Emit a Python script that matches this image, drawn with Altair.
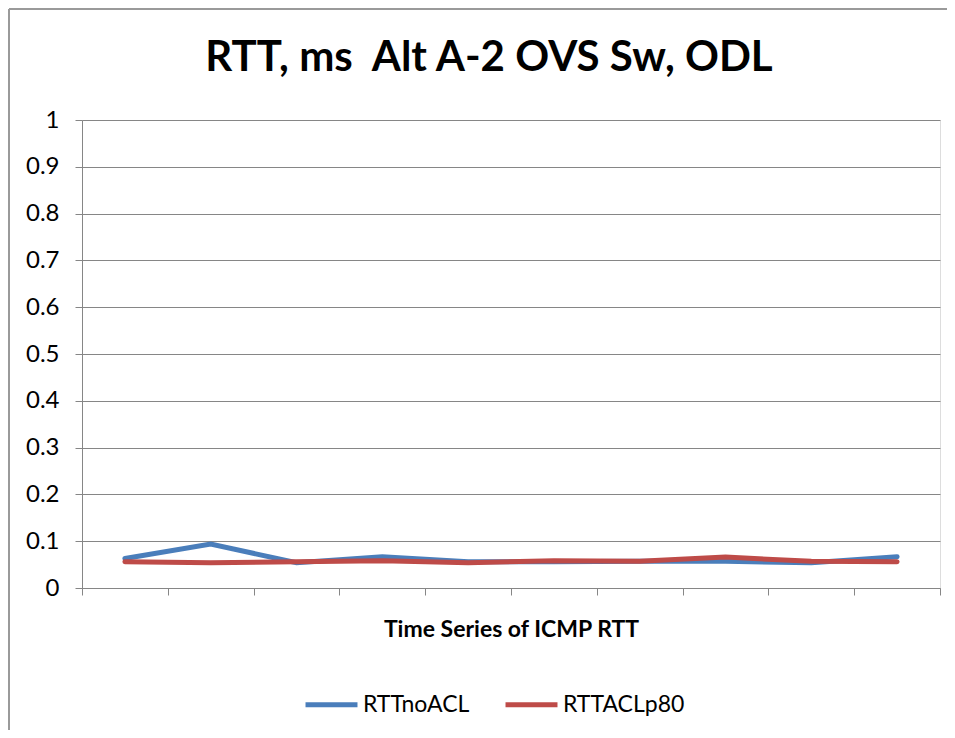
import altair as alt
import pandas as pd

points = [str(i) for i in range(1, 11)]
rtt_no_acl = [0.063, 0.094, 0.054, 0.067, 0.056, 0.056, 0.057, 0.057, 0.054, 0.067]
rtt_acl_p80 = [0.056, 0.054, 0.056, 0.058, 0.054, 0.058, 0.057, 0.066, 0.057, 0.056]
series_names = ["RTTnoACL", "RTTACLp80"]
series_colors = ["#4A7EBB", "#BE4B48"]
y_ticks = [0, 0.1, 0.2, 0.3, 0.4, 0.5, 0.6, 0.7, 0.8, 0.9, 1]

rows = []
for name, vals in zip(series_names, [rtt_no_acl, rtt_acl_p80]):
    for p, v in zip(points, vals):
        rows.append({"point": p, "series": name, "rtt": v})
df = pd.DataFrame(rows)

FONT = "Lato"

lines = alt.Chart(df).mark_line(strokeWidth=5, strokeCap="round").encode(
    x=alt.X("point:N", sort=points,
            scale=alt.Scale(type="band", paddingInner=0, paddingOuter=0),
            axis=alt.Axis(title="Time Series of ICMP RTT", labels=False,
                          tickBand="extent", ticks=True, tickSize=7,
                          tickColor="#868686", domainColor="#868686",
                          titleFont=FONT, titleFontSize=23, titleFontWeight="bold",
                          titleColor="#000000", titlePadding=23, grid=False)),
    y=alt.Y("rtt:Q", scale=alt.Scale(domain=[0, 1], nice=False),
            axis=alt.Axis(title=None, values=y_ticks, format="~g", tickSize=7,
                          tickColor="#868686", domainColor="#868686",
                          gridColor="#868686", gridWidth=1,
                          labelFont=FONT, labelFontSize=24, labelColor="#000000",
                          labelPadding=16)),
    color=alt.Color("series:N", sort=series_names,
                    scale=alt.Scale(domain=series_names, range=series_colors),
                    legend=alt.Legend(title=None, orient="none", direction="horizontal",
                                      legendX=221, legendY=556,
                                      symbolType="stroke", symbolSize=2700,
                                      symbolStrokeWidth=5, labelFont=FONT,
                                      labelFontSize=23, labelColor="#000000",
                                      labelOffset=3, columnPadding=25)),
)

border = alt.Chart(pd.DataFrame({"k": [0]})).mark_rule(color="#9A9A9A", strokeWidth=2).encode(
    x=alt.value(-73), x2=alt.value(900), y=alt.value(-111)
) + alt.Chart(pd.DataFrame({"k": [0]})).mark_rule(color="#9A9A9A", strokeWidth=2).encode(
    x=alt.value(-73), y=alt.value(-111), y2=alt.value(650)
)

chart = alt.layer(border, lines).properties(
    width=858, height=468,
    autosize=alt.AutoSizeParams(type="none"),
    padding={"left": 74, "top": 112, "right": 7, "bottom": 142},
    title=alt.TitleParams("RTT, ms \u00a0Alt A-2 OVS Sw, ODL", font=FONT, fontSize=42,
                          fontWeight="bold", color="#000000", anchor="middle",
                          offset=0, dy=72, dx=-22),
).configure_view(stroke=None).configure(background="white")

chart.save("out.html", embed_options={"renderer": "svg", "actions": False})
